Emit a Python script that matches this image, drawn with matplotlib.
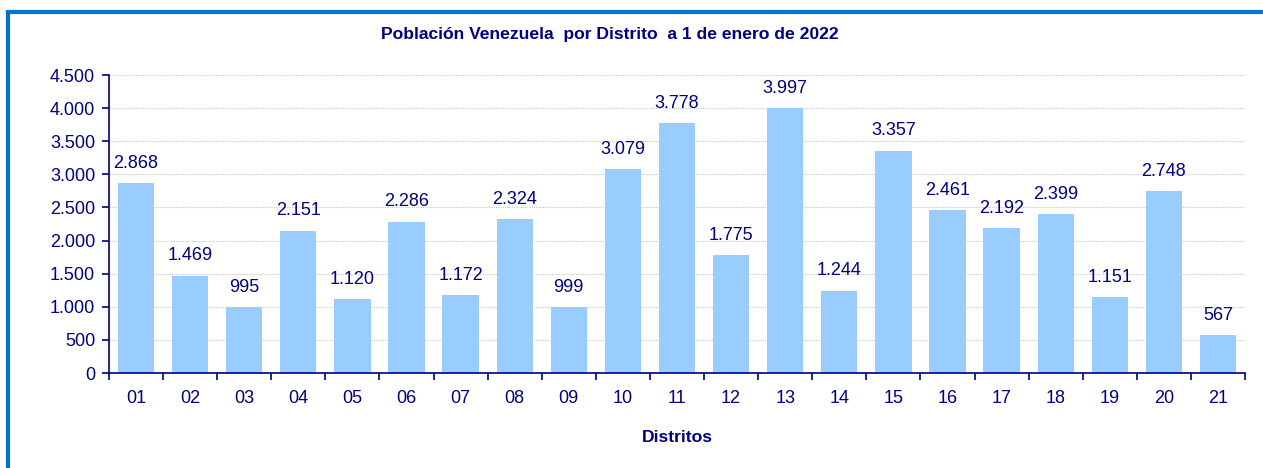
import matplotlib
matplotlib.use("Agg")
import matplotlib.pyplot as plt
from matplotlib.lines import Line2D

districts = ["01", "02", "03", "04", "05", "06", "07", "08", "09", "10", "11",
             "12", "13", "14", "15", "16", "17", "18", "19", "20", "21"]
population = [2868, 1469, 995, 2151, 1120, 2286, 1172, 2324, 999, 3079, 3778,
              1775, 3997, 1244, 3357, 2461, 2192, 2399, 1151, 2748, 567]
yticks = [0, 500, 1000, 1500, 2000, 2500, 3000, 3500, 4000, 4500]
ytick_labels = ["0", "500", "1.000", "1.500", "2.000", "2.500", "3.000", "3.500", "4.000", "4.500"]

plt.rcParams['font.family'] = ['Liberation Sans', 'DejaVu Sans']
navy = "#000080"

W, H = 1263, 468
fig = plt.figure(figsize=(W / 100, H / 100), dpi=100)
fig.patch.set_facecolor("white")

# blue frame
fig.add_artist(Line2D([8 / W, 8 / W], [0, 1 - 10 / H], transform=fig.transFigure,
                      color="#0070C0", lw=3, solid_capstyle="butt"))
fig.add_artist(Line2D([7 / W, 1], [1 - 11.5 / H, 1 - 11.5 / H], transform=fig.transFigure,
                      color="#0077CC", lw=3, solid_capstyle="butt"))

ax = fig.add_axes([109 / W, 1 - 373 / H, (1245 - 109) / W, (373 - 75) / H])
x = list(range(len(districts)))
ax.bar(x, population, width=0.67, color="#99CCFF", zorder=2)
ax.set_xlim(-0.5, len(districts) - 0.5)
ax.set_ylim(0, 4500)

for xi, v in zip(x, population):
    ax.text(xi, v + 170, f"{v:,}".replace(",", "."), ha="center", va="bottom",
            fontsize=13, color=navy)

ax.set_yticks(yticks)
ax.set_yticklabels(ytick_labels, fontsize=13, color=navy)
ax.set_xticks(x)
ax.set_xticklabels(districts, fontsize=13, color=navy)
ax.tick_params(axis="x", length=0, pad=12)
ax.set_xticks([i - 0.5 for i in range(len(districts) + 1)], minor=True)
ax.tick_params(axis="x", which="minor", length=5, direction="out", color=navy, width=1.2)
ax.tick_params(axis="y", length=5, direction="out", color=navy, width=1.2, pad=5)

ax.grid(axis="y", color="#C8C8C8", linestyle=(0, (1, 1)), linewidth=0.8, zorder=0)
for s in ["top", "right"]:
    ax.spines[s].set_visible(False)
for s in ["left", "bottom"]:
    ax.spines[s].set_color(navy)
    ax.spines[s].set_linewidth(1.2)

fig.text(610 / W, 1 - 34 / H, "Población Venezuela  por Distrito  a 1 de enero de 2022",
         ha="center", va="center", fontsize=12.6, fontweight="bold", color=navy)
fig.text(677 / W, 1 - 437 / H, "Distritos", ha="center", va="center",
         fontsize=12.6, fontweight="bold", color=navy)

fig.savefig("out.png", dpi=100)
